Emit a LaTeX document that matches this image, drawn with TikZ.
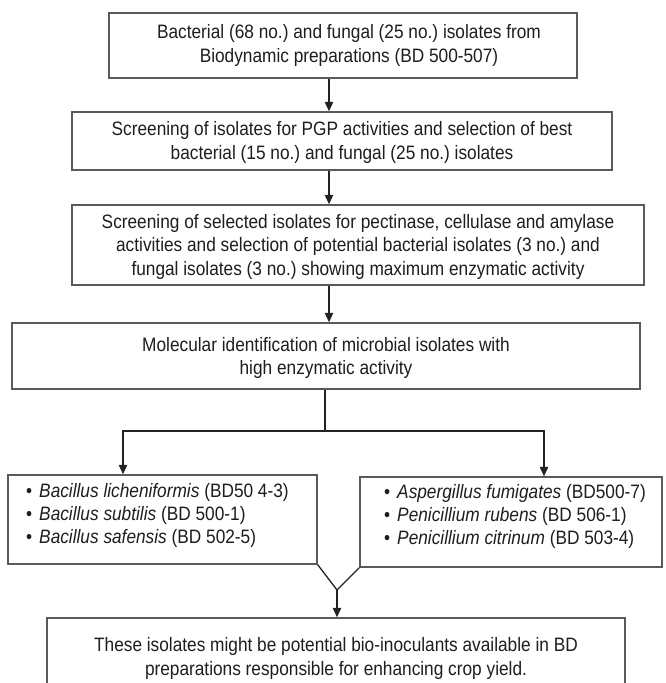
\documentclass[tikz,border=0pt]{standalone}
\usepackage{fontspec}
\setmainfont{Liberation Sans}[FakeStretch=0.89]
\usetikzlibrary{arrows.meta}
\definecolor{boxgray}{HTML}{5A5A5A}
\definecolor{textgray}{HTML}{1E1E1E}
\definecolor{linegray}{HTML}{222222}
\frenchspacing
\begin{document}
\begin{tikzpicture}[x=1pt,y=-1pt,
  box/.style={draw=boxgray, line width=1.5pt, inner sep=0pt, fill=white},
  txt/.style={align=center, font=\frenchspacing\fontsize{19.4}{23.5}\selectfont, text=textgray, inner sep=0pt},
  ltxt/.style={align=left, font=\frenchspacing\fontsize{19.4}{23}\selectfont, text=textgray, inner sep=0pt, anchor=west},
  conn/.style={draw=linegray, line width=1.3pt},
  arr/.style={conn, -{Triangle[width=8.5pt,length=9.5pt]}}]
\useasboundingbox (0,0) rectangle (665,683);
% boxes
\node[box, minimum width=468pt, minimum height=65pt] (b1) at (343,45.5) {};
\node[box, minimum width=540pt, minimum height=58pt] (b2) at (342,141) {};
\node[box, minimum width=572pt, minimum height=80pt] (b3) at (358,245) {};
\node[box, minimum width=628pt, minimum height=66pt] (b4) at (326,356) {};
\node[box, minimum width=309pt, minimum height=89pt] (lb) at (162.5,519.5) {};
\node[box, minimum width=302pt, minimum height=90pt] (rb) at (511,522) {};
\node[box, minimum width=578pt, minimum height=84pt] (bb) at (336,660) {};
% texts
\node[txt] (t1) at (349,45.5) {Bacterial (68 no.) and fungal (25 no.) isolates from\\Biodynamic preparations (BD 500-507)};
\node[txt] (t2) at (342,142.5) {Screening of isolates for PGP activities and selection of best\\bacterial (15 no.) and fungal (25 no.) isolates};
\node[txt] (t3) at (358,246.5) {Screening of selected isolates for pectinase, cellulase and amylase\\activities and selection of potential bacterial isolates (3 no.) and\\fungal isolates (3 no.) showing maximum enzymatic activity};
\node[txt] (t4) at (326,358) {Molecular identification of microbial isolates with\\high enzymatic activity};
\node[ltxt] (tl) at (26,515) {\textbullet\hspace{7pt}\textit{Bacillus licheniformis} (BD50 4-3)\\\textbullet\hspace{7pt}\textit{Bacillus subtilis} (BD 500-1)\\\textbullet\hspace{7pt}\textit{Bacillus safensis} (BD 502-5)};
\node[ltxt] (tr) at (384,516) {\textbullet\hspace{7pt}\textit{Aspergillus fumigates} (BD500-7)\\\textbullet\hspace{7pt}\textit{Penicillium rubens} (BD 506-1)\\\textbullet\hspace{7pt}\textit{Penicillium citrinum} (BD 503-4)};
\node[txt] (tb) at (336,658.5) {These isolates might be potential bio-inoculants available in BD\\preparations responsible for enhancing crop yield.};
% connectors
\coordinate (ax) at (329,0);
\draw[arr] (b1.south -| ax) -- (b2.north -| ax);
\draw[arr] (b2.south -| ax) -- (b3.north -| ax);
\draw[arr] (b3.south -| ax) -- (b4.north -| ax);
\coordinate (sp) at (325,431);
\coordinate (la) at (123,431);
\coordinate (ra) at (544,431);
\draw[conn] (b4.south -| sp) -- (sp);
\draw[arr] (sp) -- (la) -- (la |- lb.north);
\draw[arr] (sp) -- (ra) -- (ra |- rb.north);
\coordinate (jn) at (337,590);
\draw[conn] (lb.south east) -- (jn) -- (rb.south west);
\draw[arr] (jn) -- (jn |- bb.north);
\end{tikzpicture}
\end{document}
